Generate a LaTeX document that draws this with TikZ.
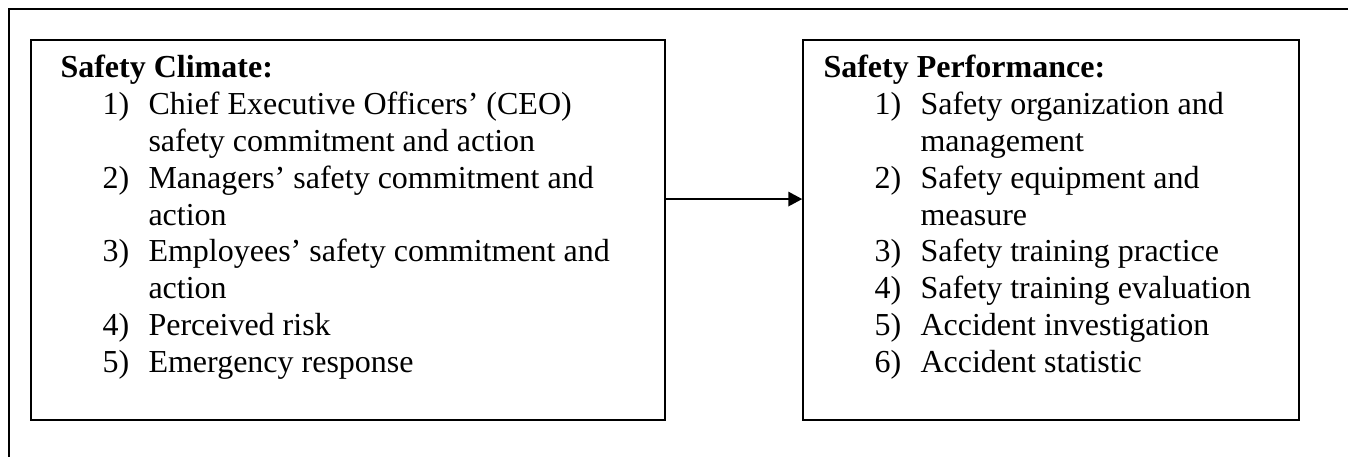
\documentclass[tikz,border=0pt]{standalone}
\usepackage{fontspec}
\setmainfont{Liberation Serif}
\usetikzlibrary{arrows.meta}
\begin{document}
\begin{tikzpicture}[x=0.375pt,y=-0.375pt,
  txt/.style={anchor=base west,inner sep=0pt,font=\fontsize{12pt}{13.8pt}\selectfont},
  hd/.style={txt,font=\fontsize{12pt}{13.8pt}\selectfont\bfseries},
  box/.style={draw,line width=0.6pt,minimum height=142.5pt,inner sep=0pt},
  frame/.style={line width=0.5pt},
  link/.style={line width=0.7pt,-{Triangle[length=5.2pt,width=5.4pt]}}]
\useasboundingbox (0,0) rectangle (1348,457);
\draw[frame] (9,457) -- (9,9) -- (1348,9);
\node[box,minimum width=237.75pt] (climate) at (348,230) {};
\node[box,minimum width=186pt] (perf) at (1051,230) {};
\draw[link] ([yshift=11.6pt]climate.east) -- ([yshift=11.6pt]perf.west);
% left box text
\node[hd] (lh) at (60,78) {Safety Climate:};
\node[txt] (ln1) at (102,114.8) {1)};
\node[txt] (lt1a) at (148,114.8) {Chief Executive Officers' (CEO)};
\node[txt] (lt1b) at (148,151.6) {safety commitment and action};
\node[txt] (ln2) at (102,188.4) {2)};
\node[txt] (lt2a) at (148,188.4) {Managers' safety commitment and};
\node[txt] (lt2b) at (148,225.2) {action};
\node[txt] (ln3) at (102,262) {3)};
\node[txt] (lt3a) at (148,262) {Employees' safety commitment and};
\node[txt] (lt3b) at (148,298.8) {action};
\node[txt] (ln4) at (102,335.6) {4)};
\node[txt] (lt4) at (148,335.6) {Perceived risk};
\node[txt] (ln5) at (102,372.4) {5)};
\node[txt] (lt5) at (148,372.4) {Emergency response};
% right box text
\node[hd] (rh) at (823,78) {Safety Performance:};
\node[txt] (rn1) at (874,114.8) {1)};
\node[txt] (rt1a) at (920,114.8) {Safety organization and};
\node[txt] (rt1b) at (920,151.6) {management};
\node[txt] (rn2) at (874,188.4) {2)};
\node[txt] (rt2a) at (920,188.4) {Safety equipment and};
\node[txt] (rt2b) at (920,225.2) {measure};
\node[txt] (rn3) at (874,262) {3)};
\node[txt] (rt3) at (920,262) {Safety training practice};
\node[txt] (rn4) at (874,298.8) {4)};
\node[txt] (rt4) at (920,298.8) {Safety training evaluation};
\node[txt] (rn5) at (874,335.6) {5)};
\node[txt] (rt5) at (920,335.6) {Accident investigation};
\node[txt] (rn6) at (874,372.4) {6)};
\node[txt] (rt6) at (920,372.4) {Accident statistic};
\end{tikzpicture}
\end{document}
